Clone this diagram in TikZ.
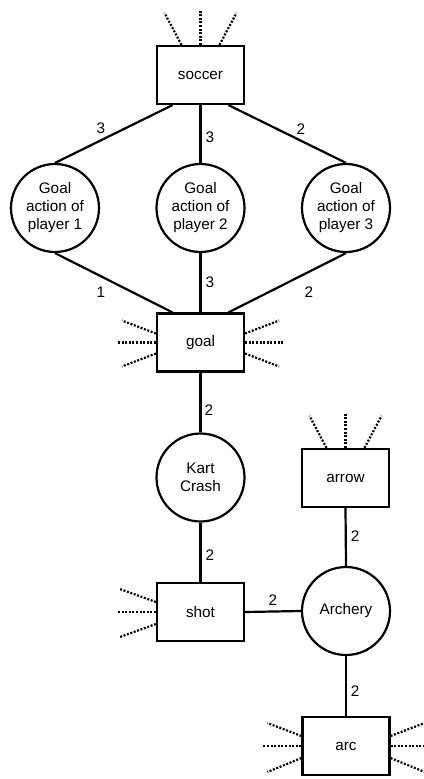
\documentclass[tikz,border=0pt]{standalone}
\usepackage{fontspec}
\setmainfont{Liberation Sans}
\usetikzlibrary{calc}
\tikzset{
  box/.style={draw, line width=2.2pt, minimum width=87pt, minimum height=58pt, inner sep=0pt, font=\fontsize{15.3}{18}\selectfont},
  circ/.style={draw, circle, line width=2.2pt, minimum size=88pt, inner sep=0pt, align=center, font=\fontsize{15.3}{18}\selectfont},
  edge/.style={line width=2.2pt},
  dots/.style={line width=2.2pt, dash pattern=on 2pt off 1.6pt},
  lbl/.style={inner sep=0pt, font=\fontsize{15.3}{18}\selectfont}
}
\begin{document}
\begin{tikzpicture}[x=1pt,y=-1pt]
\useasboundingbox (0,0) rectangle (423,779);
% nodes
\node[box] (soccer) at (200.5,75) {soccer};
\node[circ] (p1) at (55,208) {Goal\\action of\\player 1};
\node[circ] (p2) at (200.5,208) {Goal\\action of\\player 2};
\node[circ] (p3) at (346,208) {Goal\\action of\\player 3};
\node[box] (goal) at (200.5,342.5) {goal};
\node[circ] (kart) at (200.5,477.5) {Kart\\Crash};
\node[box] (shot) at (200.5,612) {shot};
\node[box] (arrow) at (345.5,478) {arrow};
\node[circ] (arch) at (346,611) {Archery};
\node[box] (arc) at (346,746) {arc};
% edges
\draw[edge] ($(soccer.south)+(-28,0)$) -- (p1.north);
\draw[edge] (soccer.south) -- (p2.north);
\draw[edge] ($(soccer.south)+(28,0)$) -- (p3.north);
\draw[edge] (p1.south) -- ($(goal.north)+(-28,0)$);
\draw[edge] (p2.south) -- (goal.north);
\draw[edge] (p3.south) -- ($(goal.north)+(28,0)$);
\draw[edge] (goal.south) -- (kart.north);
\draw[edge] (kart.south) -- (shot.north);
\draw[edge] (shot.east) -- (arch.west);
\draw[edge] (arrow.south) -- (arch.north);
\draw[edge] (arch.south) -- (arc.north);
% labels
\node[lbl] at (101,128) {3};
\node[lbl] at (210,137) {3};
\node[lbl] at (301,129) {2};
\node[lbl] at (101,292) {1};
\node[lbl] at (210,282) {3};
\node[lbl] at (309,292) {2};
\node[lbl] at (209,410) {2};
\node[lbl] at (210,555) {2};
\node[lbl] at (273,600) {2};
\node[lbl] at (355,536) {2};
\node[lbl] at (355,691) {2};
% dotted stubs: soccer top
\draw[dots] ($(soccer.north)+(-19,0)$) -- ++(-17,-32);
\draw[dots] (soccer.north) -- ++(0,-34);
\draw[dots] ($(soccer.north)+(19,0)$) -- ++(17,-32);
% arrow top
\draw[dots] ($(arrow.north)+(-19,0)$) -- ++(-17,-32);
\draw[dots] (arrow.north) -- ++(0,-34);
\draw[dots] ($(arrow.north)+(19,0)$) -- ++(17,-32);
% goal left and right
\draw[dots] ($(goal.west)+(0,-9)$) -- ++(-34,-13);
\draw[dots] (goal.west) -- ++(-38,0);
\draw[dots] ($(goal.west)+(0,11)$) -- ++(-34,13);
\draw[dots] ($(goal.east)+(0,-9)$) -- ++(34,-13);
\draw[dots] (goal.east) -- ++(38,0);
\draw[dots] ($(goal.east)+(0,11)$) -- ++(34,13);
% shot left
\draw[dots] ($(shot.west)+(0,-10)$) -- ++(-36,-13);
\draw[dots] (shot.west) -- ++(-38,0);
\draw[dots] ($(shot.west)+(0,12)$) -- ++(-36,13);
% arc left and right
\draw[dots] ($(arc.west)+(0,-10)$) -- ++(-34,-13);
\draw[dots] (arc.west) -- ++(-38,0);
\draw[dots] ($(arc.west)+(0,12)$) -- ++(-34,14);
\draw[dots] ($(arc.east)+(0,-10)$) -- ++(34,-13);
\draw[dots] (arc.east) -- ++(38,0);
\draw[dots] ($(arc.east)+(0,12)$) -- ++(34,14);
\end{tikzpicture}
\end{document}
